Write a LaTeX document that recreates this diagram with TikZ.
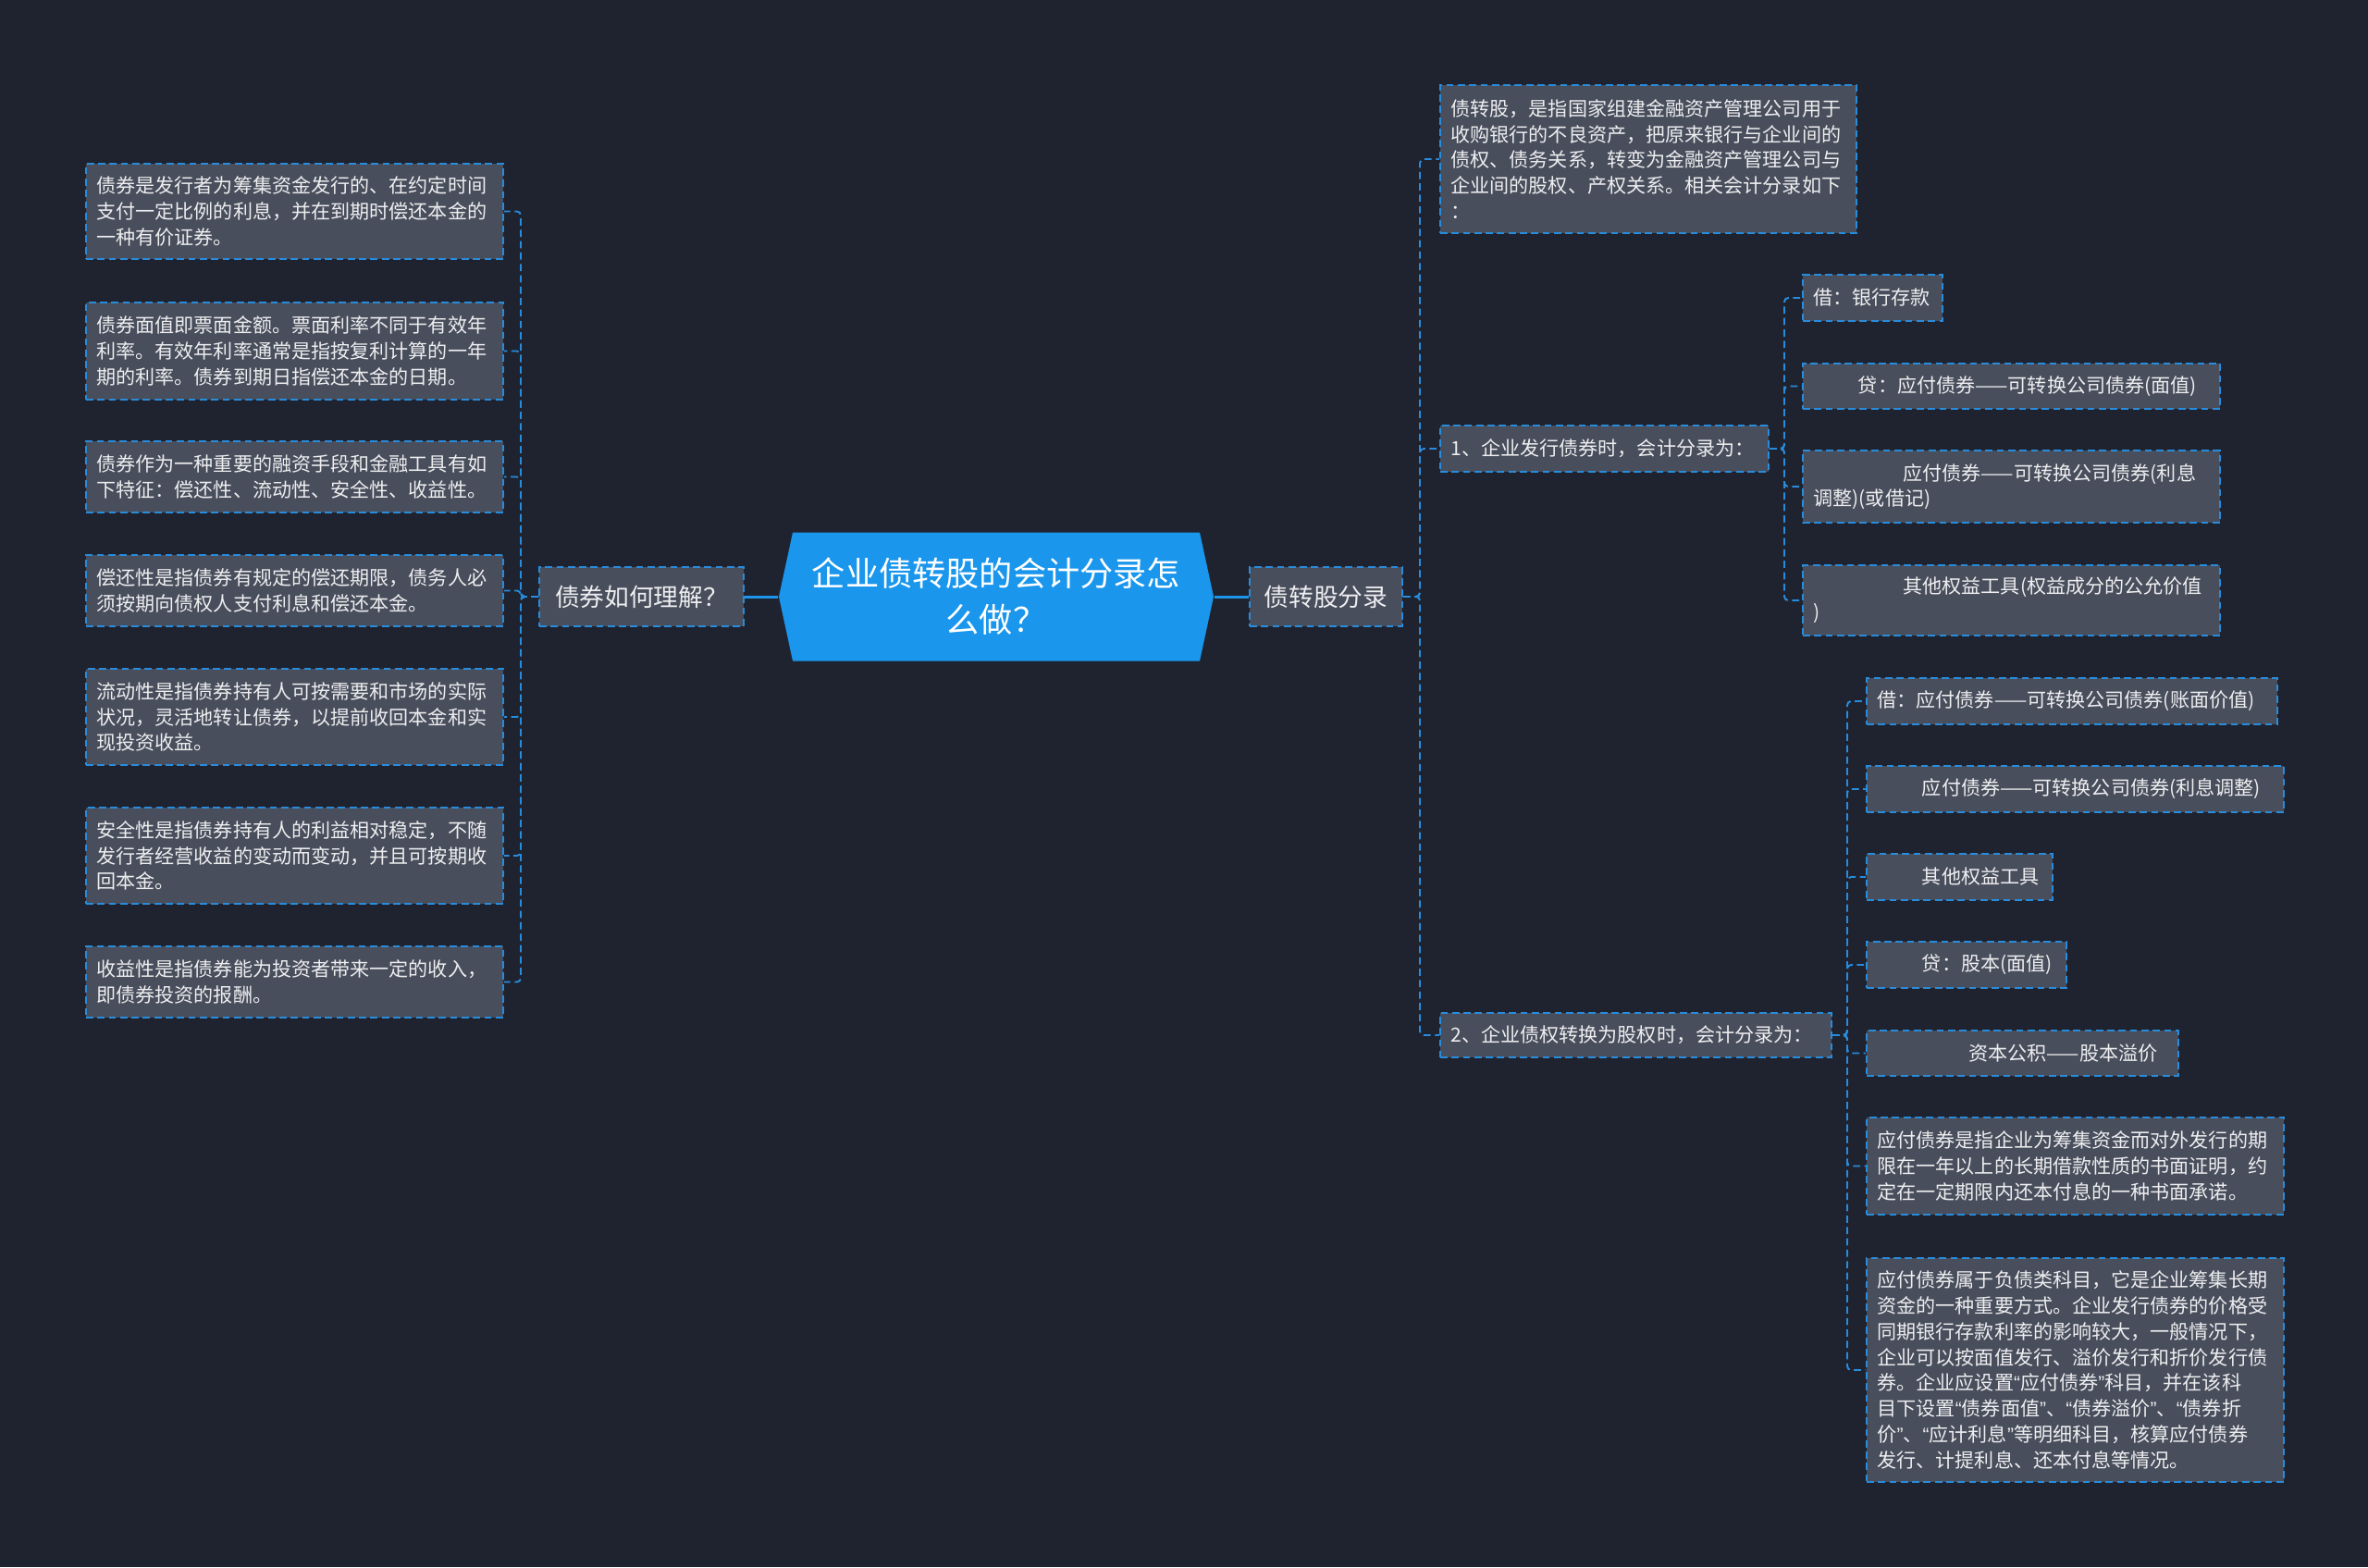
\documentclass[tikz,border=0pt]{standalone}
\usepackage{fontspec}
\setmainfont{Noto Sans CJK SC}
\newfontfamily\quotefont{Liberation Sans}
\usetikzlibrary{positioning}
\usetikzlibrary{calc}
\definecolor{bgnavy}{RGB}{31,35,48}
\definecolor{boxgray}{RGB}{72,78,92}
\definecolor{dashblue}{RGB}{40,140,220}
\definecolor{topicblue}{RGB}{26,150,236}
\definecolor{leaftext}{RGB}{238,238,240}
\newcommand{\leaffont}{\fontsize{6pt}{7.9pt}\selectfont}
\newcommand{\branchfont}{\fontsize{7.6pt}{9pt}\selectfont}
\newcommand{\topicfont}{\fontsize{10.3pt}{14.2pt}\selectfont}
\newcommand{\oq}{{\quotefont\char"201C}}
\newcommand{\cq}{{\quotefont\char"201D}}

\tikzset{
    leaf/.style={draw=dashblue, dash pattern=on 2.2pt off 1.3pt, line width=0.55pt,
        fill=boxgray, text=leaftext, font=\leaffont, align=left,
        inner xsep=0.115cm, inner ysep=0pt, anchor=west},
    branch/.style={draw=dashblue, dash pattern=on 2.2pt off 1.3pt, line width=0.55pt,
        fill=boxgray, text=leaftext, font=\branchfont, minimum height=0.64cm, inner sep=0pt},
    topic/.style={minimum width=4.70cm, minimum height=1.39cm, align=center, text=white,
        font=\topicfont, inner sep=0pt,
        path picture={\fill[topicblue]
            ([xshift=0.15cm]path picture bounding box.north west) --
            ([xshift=-0.15cm]path picture bounding box.north east) --
            (path picture bounding box.east) --
            ([xshift=-0.15cm]path picture bounding box.south east) --
            ([xshift=0.15cm]path picture bounding box.south west) --
            (path picture bounding box.west) -- cycle;}},
    link/.style={dashblue, dash pattern=on 2.2pt off 1.3pt, line width=0.55pt, rounded corners=1.2pt},
    trunk/.style={topicblue, line width=0.85pt},
}

\begin{document}
\begin{tikzpicture}
    \fill[bgnavy] (0,0) rectangle (25.60,-16.94);
    \useasboundingbox (0,0) rectangle (25.60,-16.94);

    % centre
    \node[topic] (topic) at (10.77,-6.45) {企业债转股的会计分录怎\\么做？};
    \node[branch, minimum width=2.21cm] (under) at (6.935,-6.45) {债券如何理解？};
    \node[branch, minimum width=1.65cm] (entry) at (14.335,-6.45) {债转股分录};
    \draw[trunk] (under.east) -- (topic.west);
    \draw[trunk] (topic.east) -- (entry.west);

    % left branch
    \coordinate (ljoint) at (5.63,-6.45);
    \node[leaf, text width=4.28cm, minimum height=1.03cm] (ans1) at (0.92,-2.285)
        {债券是发行者为筹集资金发行的、在约定时间\\支付一定比例的利息，并在到期时偿还本金的\\一种有价证券。};
    \node[leaf, text width=4.28cm, minimum height=1.05cm] (ans2) at (0.92,-3.795)
        {债券面值即票面金额。票面利率不同于有效年\\利率。有效年利率通常是指按复利计算的一年\\期的利率。债券到期日指偿还本金的日期。};
    \node[leaf, text width=4.28cm, minimum height=0.77cm] (ans3) at (0.92,-5.155)
        {债券作为一种重要的融资手段和金融工具有如\\下特征：偿还性、流动性、安全性、收益性。};
    \node[leaf, text width=4.28cm, minimum height=0.77cm] (ans4) at (0.92,-6.385)
        {偿还性是指债券有规定的偿还期限，债务人必\\须按期向债权人支付利息和偿还本金。};
    \node[leaf, text width=4.28cm, minimum height=1.04cm] (ans5) at (0.92,-7.75)
        {流动性是指债券持有人可按需要和市场的实际\\状况，灵活地转让债券，以提前收回本金和实\\现投资收益。};
    \node[leaf, text width=4.28cm, minimum height=1.04cm] (ans6) at (0.92,-9.25)
        {安全性是指债券持有人的利益相对稳定，不随\\发行者经营收益的变动而变动，并且可按期收\\回本金。};
    \node[leaf, text width=4.28cm, minimum height=0.77cm] (ans7) at (0.92,-10.615)
        {收益性是指债券能为投资者带来一定的收入，\\即债券投资的报酬。};
    \foreach \n in {ans1,ans2,ans3,ans4,ans5,ans6,ans7}
        \draw[link] (under.west) -- (ljoint) |- (\n.east);

    % right branch
    \coordinate (rjoint) at (15.35,-6.45);
    \node[leaf, text width=4.27cm, minimum height=1.60cm] (intro) at (15.56,-1.72)
        {债转股，是指国家组建金融资产管理公司用于\\收购银行的不良资产，把原来银行与企业间的\\债权、债务关系，转变为金融资产管理公司与\\企业间的股权、产权关系。相关会计分录如下\\：};
    \node[leaf, text width=3.32cm, minimum height=0.50cm] (step1) at (15.56,-4.85)
        {1、企业发行债券时，会计分录为：};
    \node[leaf, text width=4.00cm, minimum height=0.48cm] (step2) at (15.56,-11.19)
        {2、企业债权转换为股权时，会计分录为：};
    \foreach \n in {intro,step1,step2}
        \draw[link] (entry.east) -- (rjoint) |- (\n.west);

    % issuing entries
    \coordinate (s1joint) at (19.29,-4.85);
    \node[leaf, text width=1.28cm, minimum height=0.50cm] (s1a) at (19.48,-3.22)
        {借：银行存款};
    \node[leaf, text width=4.28cm, minimum height=0.49cm] (s1b) at (19.48,-4.175)
        {\hspace*{2.3em}贷：应付债券——可转换公司债券(面值)};
    \node[leaf, text width=4.28cm, minimum height=0.78cm] (s1c) at (19.48,-5.26)
        {\hspace*{4.6em}应付债券——可转换公司债券(利息\\调整)(或借记)};
    \node[leaf, text width=4.28cm, minimum height=0.76cm] (s1d) at (19.48,-6.49)
        {\hspace*{4.6em}其他权益工具(权益成分的公允价值\\)};
    \foreach \n in {s1a,s1b,s1c,s1d}
        \draw[link] (step1.east) -- (s1joint) |- (\n.west);

    % conversion entries
    \coordinate (s2joint) at (19.97,-11.19);
    \node[leaf, text width=4.21cm, minimum height=0.50cm] (s2a) at (20.17,-7.58)
        {借：应付债券——可转换公司债券(账面价值)};
    \node[leaf, text width=4.28cm, minimum height=0.50cm] (s2b) at (20.17,-8.53)
        {\hspace*{2.3em}应付债券——可转换公司债券(利息调整)};
    \node[leaf, text width=1.78cm, minimum height=0.50cm] (s2c) at (20.17,-9.48)
        {\hspace*{2.3em}其他权益工具};
    \node[leaf, text width=1.93cm, minimum height=0.50cm] (s2d) at (20.17,-10.43)
        {\hspace*{2.3em}贷：股本(面值)};
    \node[leaf, text width=3.14cm, minimum height=0.49cm] (s2e) at (20.17,-11.385)
        {\hspace*{4.7em}资本公积——股本溢价};
    \node[leaf, text width=4.28cm, minimum height=1.05cm] (s2f) at (20.17,-12.605)
        {应付债券是指企业为筹集资金而对外发行的期\\限在一年以上的长期借款性质的书面证明，约\\定在一定期限内还本付息的一种书面承诺。};
    \node[leaf, text width=4.28cm, minimum height=2.42cm] (s2g) at (20.17,-14.81)
        {应付债券属于负债类科目，它是企业筹集长期\\资金的一种重要方式。企业发行债券的价格受\\同期银行存款利率的影响较大，一般情况下，\\企业可以按面值发行、溢价发行和折价发行债\\券。企业应设置\oq 应付债券\cq 科目，并在该科\\目下设置\oq 债券面值\cq 、\oq 债券溢价\cq 、\oq 债券折\\价\cq 、\oq 应计利息\cq 等明细科目，核算应付债券\\发行、计提利息、还本付息等情况。};
    \foreach \n in {s2a,s2b,s2c,s2d,s2e,s2f,s2g}
        \draw[link] (step2.east) -- (s2joint) |- (\n.west);
\end{tikzpicture}
\end{document}
